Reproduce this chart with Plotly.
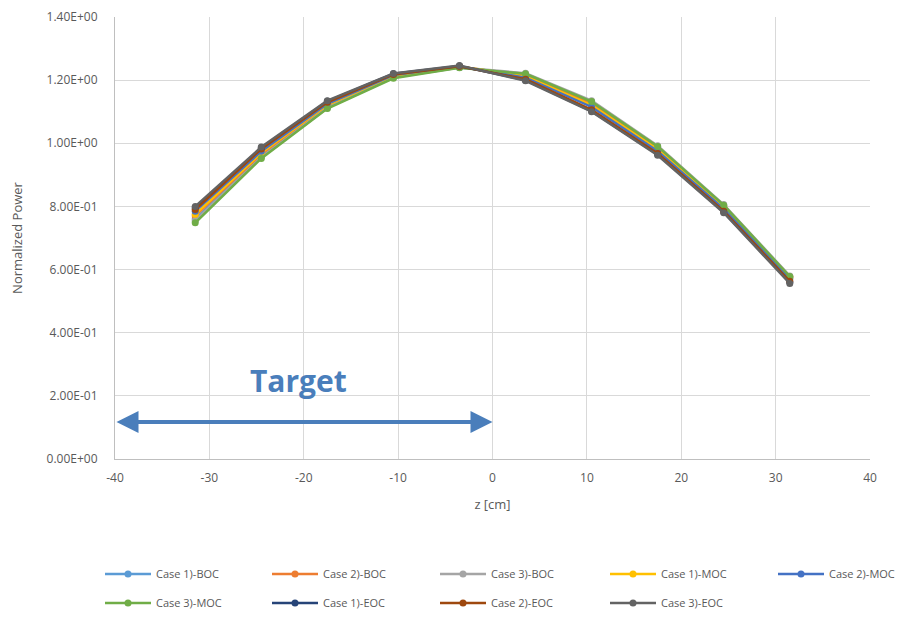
import plotly.graph_objects as go

z = [-31.5, -24.5, -17.5, -10.5, -3.5, 3.5, 10.5, 17.5, 24.5, 31.5]

series_names = ["Case 1)-BOC", "Case 2)-BOC", "Case 3)-BOC",
                "Case 1)-MOC", "Case 2)-MOC", "Case 3)-MOC",
                "Case 1)-EOC", "Case 2)-EOC", "Case 3)-EOC"]

case1_boc = [0.760, 0.960, 1.115, 1.210, 1.240, 1.218, 1.130, 0.988, 0.802, 0.575]
case2_boc = [0.770, 0.965, 1.120, 1.212, 1.242, 1.215, 1.125, 0.985, 0.800, 0.578]
case3_boc = [0.755, 0.955, 1.112, 1.208, 1.240, 1.222, 1.135, 0.992, 0.806, 0.580]
case1_moc = [0.775, 0.970, 1.122, 1.214, 1.243, 1.212, 1.120, 0.980, 0.796, 0.574]
case2_moc = [0.785, 0.975, 1.125, 1.216, 1.243, 1.208, 1.115, 0.975, 0.792, 0.570]
case3_moc = [0.748, 0.952, 1.110, 1.206, 1.239, 1.220, 1.132, 0.990, 0.804, 0.578]
case1_eoc = [0.795, 0.985, 1.133, 1.220, 1.245, 1.200, 1.102, 0.965, 0.782, 0.560]
case2_eoc = [0.790, 0.982, 1.130, 1.218, 1.244, 1.203, 1.106, 0.968, 0.785, 0.563]
case3_eoc = [0.800, 0.988, 1.135, 1.221, 1.246, 1.198, 1.100, 0.962, 0.780, 0.556]

series_values = [case1_boc, case2_boc, case3_boc, case1_moc, case2_moc,
                 case3_moc, case1_eoc, case2_eoc, case3_eoc]

colors = ["#5B9BD5", "#ED7D31", "#A5A5A5", "#FFC000", "#4472C4",
          "#70AD47", "#264478", "#9E480E", "#636363"]

y_tick_vals = [0.0, 0.2, 0.4, 0.6, 0.8, 1.0, 1.2, 1.4]
y_tick_text = ["0.00E+00", "2.00E-01", "4.00E-01", "6.00E-01",
               "8.00E-01", "1.00E+00", "1.20E+00", "1.40E+00"]
x_tick_vals = [-40, -30, -20, -10, 0, 10, 20, 30, 40]
x_tick_text = ["-40", "-30", "-20", "-10", "0", "10", "20", "30", "40"]

target_label = "Target"
target_range = [-40, 0]
target_y = 0.117
target_text_pos = [-20.6, 0.25]

# page is offset by the browser's 8px body margin
OFF = 8
W, H = 908 - OFF, 619 - OFF

legend_cols_px = [100, 267, 435, 605, 773]   # legend left edges (page px)
legend_rows_px = [574, 603]                   # legend row centres (page px)

fig = go.Figure()
legends = {}
for i, (name, vals, col) in enumerate(zip(series_names, series_values, colors)):
    key = "legend" if i == 0 else f"legend{i + 1}"
    r, c = divmod(i, 5)
    legends[key] = dict(
        orientation="h", xref="container", yref="container",
        x=(legend_cols_px[c] - OFF) / W, xanchor="left",
        y=1 - (legend_rows_px[r] - OFF) / H, yanchor="middle",
        font=dict(size=11, color="#595959"), itemwidth=46,
        bgcolor="rgba(0,0,0,0)",
    )
    fig.add_trace(go.Scatter(
        x=z, y=vals, name=name, mode="lines+markers",
        line=dict(color=col, width=2.5),
        marker=dict(color=col, size=7, symbol="circle"),
        legend=key,
    ))

# double-headed arrow
fig.add_annotation(
    x=target_range[1], y=target_y, ax=target_range[0], ay=target_y,
    xref="x", yref="y", axref="x", ayref="y",
    showarrow=True, arrowhead=2, arrowside="end+start", arrowsize=1.1,
    arrowwidth=4, arrowcolor="#4A7EBB", text="",
)
fig.add_annotation(
    x=target_text_pos[0], y=target_text_pos[1], xref="x", yref="y",
    text="<b>" + target_label + "</b>", showarrow=False,
    font=dict(size=30, color="#4A7EBB", family="Open Sans"),
)

fig.update_layout(
    width=W, height=H,
    margin=dict(l=115 - OFF, r=38, t=17 - OFF, b=160, autoexpand=False),
    paper_bgcolor="white", plot_bgcolor="white",
    font=dict(family="Open Sans", size=11, color="#595959"),
    showlegend=True,
    **legends,
)
fig.update_xaxes(
    range=[-40, 40], tickvals=x_tick_vals, ticktext=x_tick_text,
    showgrid=True, gridcolor="#D9D9D9",
    gridwidth=1, zeroline=False, showline=True, linecolor="#BFBFBF",
    ticks="", ticklabelstandoff=8, tickfont=dict(size=12),
    title=dict(text="z [cm]", font=dict(size=13, color="#595959"), standoff=14),
)
fig.update_yaxes(
    range=[0, 1.4], tickvals=y_tick_vals, ticktext=y_tick_text, showgrid=True,
    gridcolor="#D9D9D9", gridwidth=1, zeroline=False, showline=True,
    linecolor="#BFBFBF", ticks="", ticklabelstandoff=14, tickfont=dict(size=12),
    title=dict(text="Normalized Power", font=dict(size=13, color="#595959"), standoff=30),
)

fig.write_html("out.html")
